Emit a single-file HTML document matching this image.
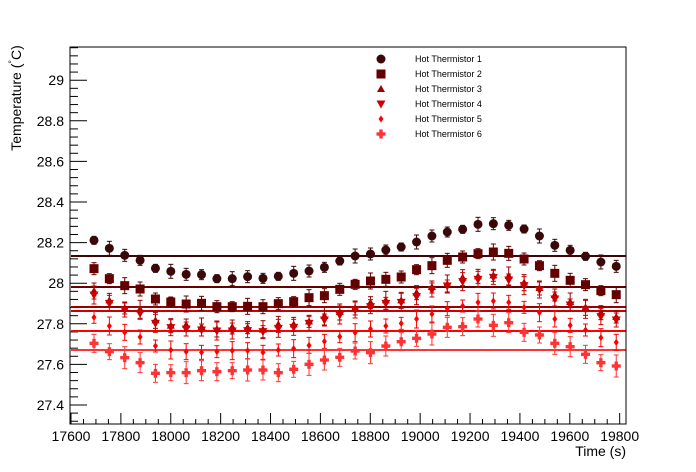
<!DOCTYPE html>
<html><head><meta charset="utf-8"><style>
html,body{margin:0;padding:0;background:#fff;}
svg{display:block;font-family:"Liberation Sans",Arial,sans-serif;}
</style></head><body>
<svg id="s" width="696" height="472" viewBox="0 0 696 472" xmlns="http://www.w3.org/2000/svg">
<rect width="696" height="472" fill="#fff"/>
<g id="g"></g>
<rect x="70" y="47" width="556" height="377" fill="none" stroke="#000" stroke-width="1"/>
<text x="626" y="456" font-size="14" text-anchor="end">Time (s)</text>
<text transform="translate(21,98) rotate(-90)" font-size="14" text-anchor="middle">Temperature (<tspan dy="-6" font-size="9">°</tspan><tspan dy="6">C)</tspan></text>
<g font-size="9">
<text x="415" y="62">Hot Thermistor 1</text>
<text x="415" y="77">Hot Thermistor 2</text>
<text x="415" y="92">Hot Thermistor 3</text>
<text x="415" y="107">Hot Thermistor 4</text>
<text x="415" y="122">Hot Thermistor 5</text>
<text x="415" y="137">Hot Thermistor 6</text>
</g>
</svg>
<script>
var g=document.getElementById('g'),NS='http://www.w3.org/2000/svg';
function el(t,a,txt){var e=document.createElementNS(NS,t);for(var k in a)e.setAttribute(k,a[k]);if(txt!=null)e.textContent=txt;g.appendChild(e);return e;}
function X(t){return 71+(t-17600)*0.2494;}
function Y(v){return 405-(v-27.4)*203;}
for(var t=17600;t<=19800;t+=50){var x=X(t),maj=(t%200==0);el('line',{x1:x,y1:424,x2:x,y2:424-(maj?11:5),stroke:'#000'});if(maj)el('text',{x:x,y:441,'font-size':14,'text-anchor':'middle'},t);}
for(var i=0;i<=47;i++){var v=27.32+i*0.04;var y=Y(v);if(y<47||y>424)continue;var maj=Math.abs((v-27.4)/0.2-Math.round((v-27.4)/0.2))<0.01;el('line',{x1:70,y1:y,x2:70+(maj?17:8),y2:y,stroke:'#000'});if(maj){var s=(Math.round(v*10)/10).toString();el('text',{x:64,y:y+5,'font-size':14,'text-anchor':'end'},s);}}
var cols=['#3a0808','#640000','#990000','#cc0000','#ff0000','#ff3333'];
var lines=[256,287,307,311,331,350];
lines.forEach(function(y,i){el('line',{x1:71,y1:y,x2:626,y2:y,stroke:cols[i],'stroke-width':2});});
var z1=[[121,145,166,181,205,214,223,224,236,236,230,235,229,220,213,202,183],[168,162,150,141,126,108,96,88,73,71,76,87,108,136,151,169,186,199]];
var z2=[[206,236,257,267,297,306,312,310,320,320,319,320,311,305,293,287,268],[253,243,238,231,209,197,181,171,161,156,160,177,197,220,241,254,272,284]];
var z4=[[285,310,330,340,370,383,387,390,393,393,392,395,385,382,370,360,345],[330,320,310,307,290,270,258,245,238,232,240,257,270,297,315,328,350,360]];
var z5=[[352,378,397,411,438,450,455,457,455,452,452,457,450,446,436,424,410],[398,387,378,370,357,342,326,318,307,303,307,322,338,357,376,390,413,427]];
var z6=[[430,455,473,488,520,518,518,512,515,512,510,510,518,508,493,480,472],[453,458,438,425,415,402,382,380,357,376,368,397,405,430,440,463,488,498]];
function conv(z){return z[0].concat(z[1]).map(function(v){return 200+v/3;});}
var S=[conv(z1),conv(z2),null,conv(z4),conv(z5),conv(z6)];
S[2]=S[3].map(function(v,i){return v-3+((i%3)-1);});
var errs=[4,5,6,6,6,8];
function marker(k,x,y,c){
 if(k==0)el('circle',{cx:x,cy:y,r:4.5,fill:c});
 else if(k==1)el('rect',{x:x-4.5,y:y-4.5,width:9,height:9,fill:c});
 else if(k==2)el('polygon',{points:(x-4)+','+(y+3)+' '+(x+4)+','+(y+3)+' '+x+','+(y-4),fill:c});
 else if(k==3)el('polygon',{points:(x-4.5)+','+(y-3.5)+' '+(x+4.5)+','+(y-3.5)+' '+x+','+(y+4.5),fill:c});
 else if(k==4)el('polygon',{points:(x-2.5)+','+y+' '+x+','+(y-3.5)+' '+(x+2.5)+','+y+' '+x+','+(y+3.5),fill:c});
 else {el('rect',{x:x-4.5,y:y-1.7,width:9,height:3.4,fill:c});el('rect',{x:x-1.7,y:y-4.5,width:3.4,height:9,fill:c});}
}
for(var k=0;k<6;k++){var c=cols[k];for(var i=0;i<S[k].length;i++){var x=94+15.36*i,y=S[k][i],e=errs[k]+((i*7+k)%4);
 el('line',{x1:x,y1:y-e,x2:x,y2:y+e,stroke:c});el('line',{x1:x-2.5,y1:y-e,x2:x+2.5,y2:y-e,stroke:c});el('line',{x1:x-2.5,y1:y+e,x2:x+2.5,y2:y+e,stroke:c});
 marker(k,x,y,c);}}
var ly=[59,74,89,104,119,134];for(var k=0;k<6;k++)marker(k,381,ly[k],cols[k]);
</script>
</body></html>
